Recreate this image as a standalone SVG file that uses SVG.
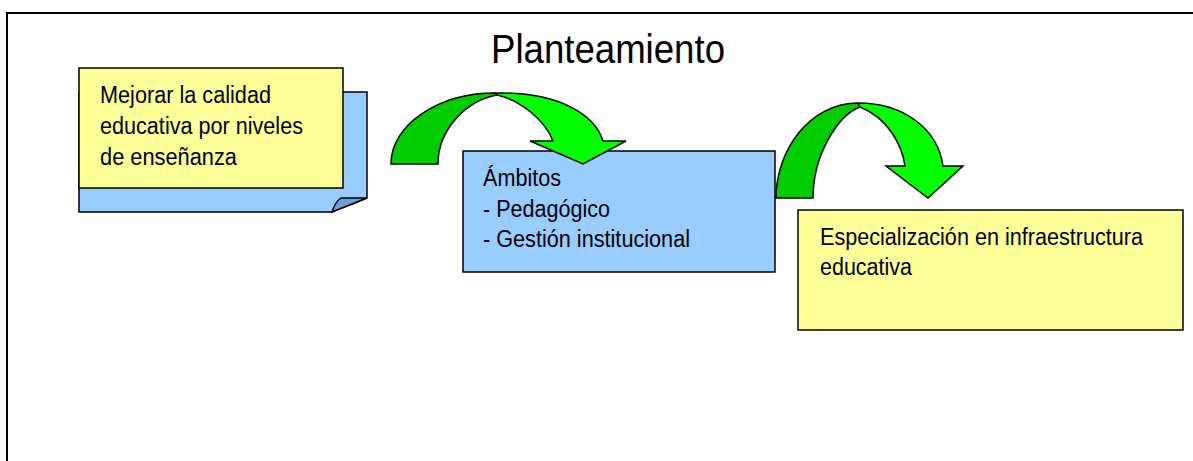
<svg xmlns="http://www.w3.org/2000/svg" width="1193" height="461" viewBox="0 0 1193 461">
<style>
.t{font-family:"Liberation Sans",Arial,sans-serif;font-size:23px;fill:#000}
.title{font-family:"Liberation Sans",Arial,sans-serif;font-size:40px;fill:#000}
.ln{stroke:#000;stroke-width:1.5;stroke-linejoin:miter}
.yel{fill:#FFFF99}
.blu{fill:#99CCFF}
.dk{fill:#00CC00}
.br{fill:#00FF00}
</style>
<rect width="1193" height="461" fill="#fff"/>
<path d="M7,461 V13 H1193" fill="none" stroke="#000" stroke-width="2"/>
<text class="title" x="491" y="63" textLength="234" lengthAdjust="spacingAndGlyphs">Planteamiento</text>

<g id="node-mejorar">
  <path class="blu ln" d="M79,92 H367 V198 L332,212 H79 Z"/>
  <path class="ln" fill="#6F9FD6" d="M332,212 Q335,202 341,198 H367 Z"/>
  <rect class="yel ln" x="79" y="68" width="264" height="120"/>
  <text class="t" x="100" y="103" textLength="171" lengthAdjust="spacingAndGlyphs">Mejorar la calidad</text>
  <text class="t" x="100" y="134" textLength="203" lengthAdjust="spacingAndGlyphs">educativa por niveles</text>
  <text class="t" x="100" y="165" textLength="137" lengthAdjust="spacingAndGlyphs">de enseñanza</text>
</g>

<g id="node-ambitos">
  <rect class="blu ln" x="463" y="151" width="312" height="121"/>
  <text class="t" x="483" y="186" textLength="78" lengthAdjust="spacingAndGlyphs">Ámbitos</text>
  <text class="t" x="483" y="217" textLength="127" lengthAdjust="spacingAndGlyphs">- Pedagógico</text>
  <text class="t" x="483" y="247" textLength="207" lengthAdjust="spacingAndGlyphs">- Gestión institucional</text>
</g>

<g id="node-especializacion">
  <rect class="yel ln" x="798" y="210" width="385" height="120"/>
  <text class="t" x="820" y="245" textLength="323" lengthAdjust="spacingAndGlyphs">Especialización en infraestructura</text>
  <text class="t" x="820" y="275" textLength="92" lengthAdjust="spacingAndGlyphs">educativa</text>
</g>

<g id="connectors">
  <g id="arrow-1">
    <path class="dk ln" d="M391,164 C391,125 438,93 495,93 L497,95 C468,100 438,128 438,164 Z"/>
    <path class="br ln" d="M495,93 C560,92 595,115 603,141 L626,141 L583,164 L530,141 L553,141 C545,120 520,100 497,95 Z"/>
  </g>
  <g id="arrow-2">
    <path class="dk ln" d="M776,198 C776,150 810,103 858,103 L860,107 C838,115 813,155 813,198 Z"/>
    <path class="br ln" d="M858,103 C905,103 938,130 943,166 L963,166 L928,198 L886,166 L905,166 C902,145 888,118 860,107 Z"/>
  </g>
</g>
</svg>
